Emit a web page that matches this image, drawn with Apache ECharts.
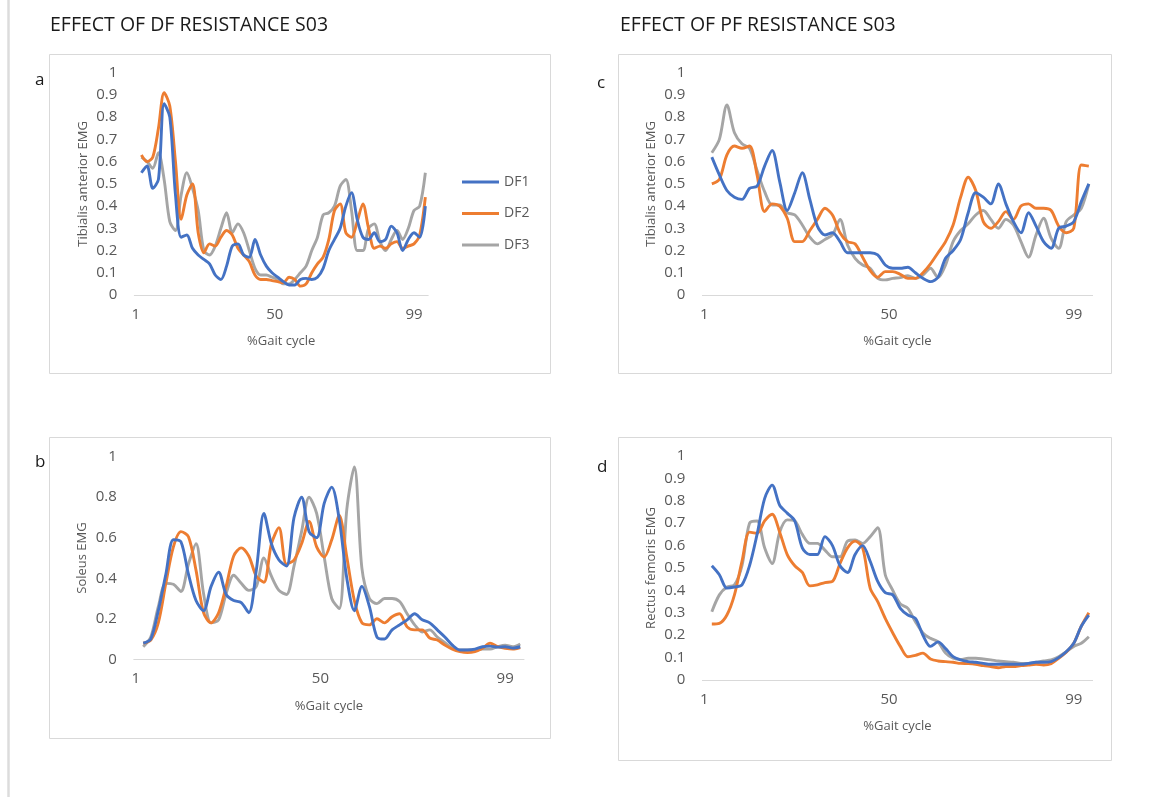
<!DOCTYPE html>
<html>
<head>
<meta charset="utf-8">
<title>EMG – effect of DF / PF resistance, S03</title>
<script src="https://cdn.jsdelivr.net/npm/echarts@6/dist/echarts.min.js"></script>
<style>
  html, body { margin: 0; padding: 0; background: #ffffff; }
  #chart { width: 1150px; height: 797px; }
</style>
</head>
<body>
<div id="chart"></div>
<script>
// % of gait cycle at which each EMG sample is plotted
const gaitPct = [3, 5, 7, 9, 11, 13, 15, 17, 19, 21,
  23, 25, 27, 29, 31, 33, 35, 37, 39, 41,
  43, 45, 47, 49, 51, 53, 55, 57, 59, 61,
  63, 65, 67, 69, 71, 73, 75, 77, 79, 81,
  83, 85, 87, 89, 91, 93, 95, 97, 99, 101,
  103];

const xTickLabels = [1, 50, 99];
const conditionNames = ['DF1', 'DF2', 'DF3'];

// a) Tibialis anterior, DF resistance
const taDF1 = [0.55, 0.58, 0.48, 0.52, 0.86, 0.80, 0.45, 0.26, 0.27, 0.21,
  0.18, 0.16, 0.14, 0.09, 0.07, 0.13, 0.22, 0.23, 0.18, 0.17,
  0.25, 0.18, 0.13, 0.10, 0.08, 0.06, 0.045, 0.045, 0.07, 0.075,
  0.07, 0.08, 0.12, 0.20, 0.25, 0.30, 0.40, 0.46, 0.34, 0.26,
  0.25, 0.28, 0.24, 0.25, 0.31, 0.28, 0.20, 0.25, 0.28, 0.26,
  0.40];
const taDF2 = [0.63, 0.60, 0.62, 0.75, 0.91, 0.85, 0.60, 0.34, 0.45, 0.50,
  0.28, 0.19, 0.23, 0.22, 0.26, 0.29, 0.27, 0.21, 0.18, 0.15,
  0.09, 0.07, 0.07, 0.065, 0.06, 0.055, 0.08, 0.07, 0.04, 0.05,
  0.10, 0.14, 0.17, 0.25, 0.38, 0.41, 0.28, 0.26, 0.33, 0.41,
  0.30, 0.21, 0.22, 0.21, 0.23, 0.24, 0.21, 0.22, 0.23, 0.27,
  0.44];
const taDF3 = [0.62, 0.60, 0.57, 0.64, 0.52, 0.33, 0.29, 0.45, 0.55, 0.48,
  0.38, 0.20, 0.18, 0.22, 0.30, 0.37, 0.28, 0.32, 0.28, 0.20,
  0.12, 0.09, 0.09, 0.08, 0.07, 0.05, 0.05, 0.07, 0.10, 0.13,
  0.20, 0.26, 0.36, 0.37, 0.40, 0.49, 0.52, 0.38, 0.20, 0.20,
  0.30, 0.32, 0.24, 0.20, 0.25, 0.29, 0.25, 0.30, 0.38, 0.40,
  0.55];

// b) Soleus, DF resistance
const solDF1 = [0.08, 0.10, 0.24, 0.42, 0.59, 0.58, 0.42, 0.29, 0.24, 0.36,
  0.43, 0.32, 0.29, 0.28, 0.23, 0.44, 0.72, 0.57, 0.49, 0.46,
  0.70, 0.80, 0.63, 0.60, 0.77, 0.85, 0.69, 0.40, 0.24, 0.36,
  0.26, 0.11, 0.10, 0.145, 0.17, 0.195, 0.225, 0.195, 0.18, 0.145,
  0.11, 0.07, 0.046, 0.046, 0.05, 0.062, 0.065, 0.06, 0.062, 0.055,
  0.062];
const solDF2 = [0.08, 0.095, 0.18, 0.375, 0.555, 0.63, 0.605, 0.44, 0.23, 0.18,
  0.23, 0.36, 0.51, 0.55, 0.51, 0.41, 0.38, 0.57, 0.65, 0.47,
  0.49, 0.57, 0.68, 0.555, 0.505, 0.59, 0.71, 0.505, 0.29, 0.18,
  0.17, 0.20, 0.18, 0.21, 0.225, 0.16, 0.145, 0.145, 0.105, 0.095,
  0.07, 0.05, 0.038, 0.033, 0.038, 0.054, 0.08, 0.062, 0.054, 0.05,
  0.058];
const solDF3 = [0.062, 0.11, 0.26, 0.375, 0.37, 0.335, 0.47, 0.57, 0.325, 0.18,
  0.195, 0.325, 0.415, 0.375, 0.34, 0.36, 0.50, 0.41, 0.34, 0.32,
  0.46, 0.63, 0.80, 0.72, 0.505, 0.30, 0.25, 0.74, 0.95, 0.45,
  0.30, 0.275, 0.30, 0.30, 0.285, 0.225, 0.17, 0.135, 0.145, 0.11,
  0.082, 0.054, 0.046, 0.046, 0.046, 0.05, 0.05, 0.062, 0.07, 0.062,
  0.076];

// c) Tibialis anterior, PF resistance
const taPF1 = [0.62, 0.54, 0.47, 0.44, 0.43, 0.48, 0.49, 0.58, 0.65, 0.51,
  0.38, 0.46, 0.55, 0.43, 0.31, 0.27, 0.28, 0.24, 0.19, 0.19,
  0.19, 0.19, 0.18, 0.135, 0.12, 0.12, 0.125, 0.10, 0.075, 0.06,
  0.08, 0.165, 0.20, 0.25, 0.37, 0.46, 0.44, 0.41, 0.50, 0.41,
  0.33, 0.28, 0.37, 0.31, 0.24, 0.21, 0.30, 0.31, 0.33, 0.42,
  0.50];
const taPF2 = [0.50, 0.52, 0.63, 0.67, 0.66, 0.67, 0.54, 0.375, 0.41, 0.40,
  0.345, 0.24, 0.24, 0.29, 0.34, 0.39, 0.36, 0.28, 0.24, 0.23,
  0.17, 0.11, 0.08, 0.105, 0.105, 0.093, 0.075, 0.075, 0.10, 0.14,
  0.19, 0.24, 0.315, 0.44, 0.53, 0.47, 0.33, 0.30, 0.33, 0.375,
  0.34, 0.40, 0.41, 0.39, 0.39, 0.38, 0.31, 0.28, 0.30, 0.585,
  0.58];
const taPF3 = [0.64, 0.70, 0.855, 0.73, 0.68, 0.66, 0.56, 0.465, 0.405, 0.405,
  0.37, 0.36, 0.315, 0.26, 0.23, 0.25, 0.27, 0.34, 0.225, 0.165,
  0.135, 0.12, 0.075, 0.068, 0.075, 0.078, 0.087, 0.075, 0.09, 0.12,
  0.078, 0.135, 0.24, 0.29, 0.32, 0.36, 0.38, 0.34, 0.30, 0.34,
  0.315, 0.24, 0.17, 0.27, 0.345, 0.255, 0.21, 0.33, 0.36, 0.39,
  0.50];

// d) Rectus femoris, PF resistance
const rfPF1 = [0.51, 0.47, 0.41, 0.415, 0.425, 0.51, 0.65, 0.81, 0.87, 0.78,
  0.745, 0.71, 0.59, 0.56, 0.56, 0.64, 0.60, 0.51, 0.48, 0.56,
  0.60, 0.53, 0.44, 0.39, 0.38, 0.32, 0.29, 0.275, 0.20, 0.15,
  0.17, 0.14, 0.104, 0.09, 0.082, 0.079, 0.074, 0.07, 0.07, 0.07,
  0.07, 0.07, 0.074, 0.079, 0.079, 0.082, 0.10, 0.126, 0.164, 0.24,
  0.29];
const rfPF2 = [0.25, 0.253, 0.29, 0.38, 0.53, 0.66, 0.655, 0.71, 0.74, 0.66,
  0.56, 0.51, 0.48, 0.42, 0.425, 0.435, 0.44, 0.52, 0.59, 0.62,
  0.59, 0.41, 0.35, 0.275, 0.21, 0.15, 0.104, 0.11, 0.12, 0.094,
  0.085, 0.082, 0.079, 0.074, 0.073, 0.07, 0.064, 0.06, 0.055, 0.06,
  0.06, 0.064, 0.067, 0.07, 0.067, 0.073, 0.097, 0.124, 0.164, 0.24,
  0.30];
const rfPF3 = [0.305, 0.38, 0.415, 0.425, 0.51, 0.70, 0.71, 0.59, 0.52, 0.66,
  0.715, 0.71, 0.65, 0.61, 0.61, 0.58, 0.55, 0.55, 0.62, 0.625,
  0.61, 0.64, 0.68, 0.47, 0.40, 0.34, 0.32, 0.26, 0.21, 0.186,
  0.17, 0.12, 0.097, 0.092, 0.097, 0.097, 0.094, 0.09, 0.085, 0.082,
  0.079, 0.074, 0.074, 0.079, 0.085, 0.09, 0.104, 0.126, 0.15, 0.164,
  0.193];

const lineColors = ['#4472C4', '#ED7D31', '#A5A5A5'];
const tickGrey = '#595959';
const borderGrey = '#d9d9d9';
const baseFont = '"Open Sans", "Noto Sans", sans-serif';

// one entry per sub-chart: plot area, y-axis step and the three curves
const panels = [
  { grid: { left: 134.3, top: 72.7, width: 293.9, height: 222.3 }, yStep: 0.1,
    yName: 'Tibialis anterior EMG', curves: [taDF1, taDF2, taDF3] },
  { grid: { left: 133.8, top: 456.7, width: 390.2, height: 202.6 }, yStep: 0.2,
    yName: 'Soleus EMG', curves: [solDF1, solDF2, solDF3] },
  { grid: { left: 702.4, top: 72.7, width: 390.2, height: 222.3 }, yStep: 0.1,
    yName: 'Tibialis anterior EMG', curves: [taPF1, taPF2, taPF3] },
  { grid: { left: 702.4, top: 456, width: 390.2, height: 224 }, yStep: 0.1,
    yName: 'Rectus femoris EMG', curves: [rfPF1, rfPF2, rfPF3] }
];

const grids = [], xAxes = [], yAxes = [], series = [];
panels.forEach((p, i) => {
  grids.push(Object.assign({ containLabel: false }, p.grid));
  xAxes.push({
    type: 'value', gridIndex: i, min: 0.5, max: 104,
    name: '%Gait cycle', nameLocation: 'middle', nameGap: 40,
    nameTextStyle: { color: tickGrey, fontSize: 13, fontFamily: baseFont },
    axisLine: { show: true, lineStyle: { color: borderGrey, width: 1 } },
    axisTick: { show: false },
    splitLine: { show: false },
    axisLabel: { customValues: xTickLabels, color: tickGrey, fontSize: 15,
      fontFamily: baseFont, margin: 12 }
  });
  yAxes.push({
    type: 'value', gridIndex: i, min: 0, max: 1, interval: p.yStep,
    name: p.yName, nameLocation: 'middle', nameRotate: 90, nameGap: 45,
    nameTextStyle: { color: tickGrey, fontSize: 13, fontFamily: baseFont },
    axisLine: { show: false }, axisTick: { show: false }, splitLine: { show: false },
    axisLabel: { color: tickGrey, fontSize: 15, fontFamily: baseFont, margin: 17 }
  });
  p.curves.forEach((vals, k) => {
    series.push({
      type: 'line', name: conditionNames[k], xAxisIndex: i, yAxisIndex: i,
      data: gaitPct.map((x, j) => [x, vals[j]]),
      showSymbol: false, symbol: 'none', smooth: 0.3,
      lineStyle: { color: lineColors[k], width: 2.9 },
      itemStyle: { color: lineColors[k] },
      emphasis: { disabled: true }, z: 3 - k
    });
  });
});

const boxes = [
  [49.5, 54.5, 501, 319], [49.5, 437.5, 501, 301],
  [618.5, 54.5, 493, 319], [618.5, 437.5, 493, 323]
];
const texts = [
  { x: 50, y: 25, t: 'EFFECT OF DF RESISTANCE S03', size: 19.5 },
  { x: 620, y: 25, t: 'EFFECT OF PF RESISTANCE S03', size: 19.5 },
  { x: 35, y: 80, t: 'a', size: 17 },
  { x: 35, y: 462, t: 'b', size: 17 },
  { x: 597, y: 83, t: 'c', size: 17 },
  { x: 597, y: 467, t: 'd', size: 17 }
];

const graphic = [
  { type: 'line', shape: { x1: 8.5, y1: 0, x2: 8.5, y2: 797 },
    style: { stroke: '#dcdcdc', lineWidth: 2.5 }, silent: true }
];
boxes.forEach(b => graphic.push({
  type: 'rect', shape: { x: b[0], y: b[1], width: b[2], height: b[3] },
  style: { fill: 'none', stroke: borderGrey, lineWidth: 1 }, silent: true, z: -1
}));
texts.forEach(t => graphic.push({
  type: 'text', x: t.x, y: t.y, silent: true,
  style: { text: t.t, fill: '#1a1a1a', font: t.size + 'px ' + baseFont,
    verticalAlign: 'middle', align: 'left' }
}));

const chart = echarts.init(document.getElementById('chart'), null, { renderer: 'canvas' });
chart.setOption({
  animation: false,
  backgroundColor: '#ffffff',
  textStyle: { fontFamily: baseFont },
  grid: grids,
  xAxis: xAxes,
  yAxis: yAxes,
  legend: {
    data: conditionNames.map(n => ({ name: n, icon: 'rect' })),
    orient: 'vertical', left: 462, top: 175, padding: 0,
    itemWidth: 37, itemHeight: 3, itemGap: 17.5,
    textStyle: { color: tickGrey, fontSize: 14, fontFamily: baseFont, lineHeight: 14 },
    selectedMode: false
  },
  graphic: graphic,
  series: series
});
</script>
</body>
</html>
